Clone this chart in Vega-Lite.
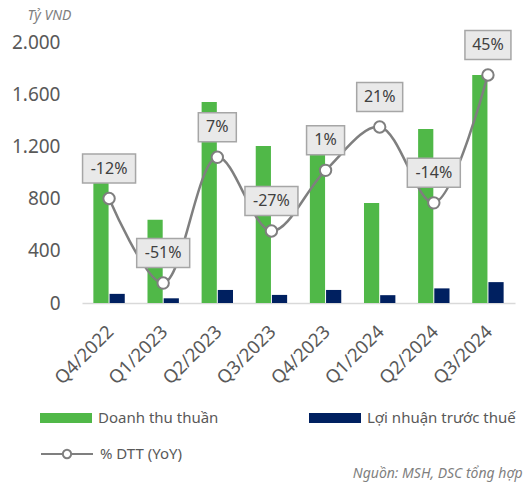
{
  "$schema": "https://vega.github.io/schema/vega-lite/v6.json",
  "width": 433,
  "height": 261,
  "autosize": {"type": "none"},
  "padding": {"left": 82, "top": 42, "right": 9, "bottom": 179},
  "background": "white",
  "config": {
    "font": "Noto Sans",
    "view": {"stroke": null}
  },
  "datasets": {
    "bars": [
      {"q": "Q4/2022", "series": "Doanh thu thuần", "value": 1140},
      {"q": "Q4/2022", "series": "Lợi nhuận trước thuế", "value": 70},
      {"q": "Q1/2023", "series": "Doanh thu thuần", "value": 638},
      {"q": "Q1/2023", "series": "Lợi nhuận trước thuế", "value": 36},
      {"q": "Q2/2023", "series": "Doanh thu thuần", "value": 1540},
      {"q": "Q2/2023", "series": "Lợi nhuận trước thuế", "value": 100},
      {"q": "Q3/2023", "series": "Doanh thu thuần", "value": 1203},
      {"q": "Q3/2023", "series": "Lợi nhuận trước thuế", "value": 62},
      {"q": "Q4/2023", "series": "Doanh thu thuần", "value": 1150},
      {"q": "Q4/2023", "series": "Lợi nhuận trước thuế", "value": 100},
      {"q": "Q1/2024", "series": "Doanh thu thuần", "value": 766},
      {"q": "Q1/2024", "series": "Lợi nhuận trước thuế", "value": 60},
      {"q": "Q2/2024", "series": "Doanh thu thuần", "value": 1333},
      {"q": "Q2/2024", "series": "Lợi nhuận trước thuế", "value": 112},
      {"q": "Q3/2024", "series": "Doanh thu thuần", "value": 1747},
      {"q": "Q3/2024", "series": "Lợi nhuận trước thuế", "value": 160}
    ],
    "yoy": [
      {"q": "Q4/2022", "yoy": -12, "label": "-12%"},
      {"q": "Q1/2023", "yoy": -51, "label": "-51%"},
      {"q": "Q2/2023", "yoy": 7, "label": "7%"},
      {"q": "Q3/2023", "yoy": -27, "label": "-27%"},
      {"q": "Q4/2023", "yoy": 1, "label": "1%"},
      {"q": "Q1/2024", "yoy": 21, "label": "21%"},
      {"q": "Q2/2024", "yoy": -14, "label": "-14%"},
      {"q": "Q3/2024", "yoy": 45, "label": "45%"}
    ]
  },
  "layer": [
    {
      "data": {"name": "bars"},
      "mark": {"type": "bar"},
      "encoding": {
        "x": {
          "field": "q", "type": "nominal", "sort": null,
          "scale": {"paddingInner": 0.42, "paddingOuter": 0.21},
          "axis": {
            "labelAngle": -45, "labelFontSize": 18.5, "labelColor": "#595959",
            "labelPadding": 19, "labelOffset": -5, "ticks": false,
            "domainColor": "#d9d9d9", "domainWidth": 1.5,
            "title": "Nguồn: MSH, DSC tổng hợp",
            "titleFontSize": 14, "titleFontStyle": "italic", "titleFontWeight": "normal",
            "titleColor": "#7f7f7f", "titleAlign": "right", "titleAnchor": null,
            "titleX": 440, "titleY": 174, "titleBaseline": "alphabetic"
          }
        },
        "xOffset": {"field": "series", "sort": null, "scale": {"paddingInner": 0.06}},
        "y": {
          "field": "value", "type": "quantitative",
          "scale": {"domain": [0, 2000], "nice": false},
          "axis": {
            "values": [0, 400, 800, 1200, 1600, 2000],
            "labelExpr": "replace(format(datum.value, ','), ',', '.')",
            "labelFontSize": 19, "labelColor": "#595959", "labelPadding": 22,
            "domain": false, "ticks": false, "grid": false,
            "title": "Tỷ VND", "titleAngle": 0, "titleAlign": "left",
            "titleBaseline": "alphabetic", "titleX": -55, "titleY": -23,
            "titleFontSize": 14, "titleFontStyle": "italic", "titleFontWeight": "normal",
            "titleColor": "#7f7f7f"
          }
        },
        "fill": {
          "field": "series", "type": "nominal", "sort": null,
          "scale": {"domain": ["Doanh thu thuần", "Lợi nhuận trước thuế"], "range": ["#50b848", "#002060"]},
          "legend": {
            "title": null, "orient": "none", "legendX": -42, "legendY": 350,
            "direction": "horizontal", "columns": 2, "columnPadding": 90,
            "symbolType": "M-1,-0.19H1V0.19H-1Z", "symbolSize": 2704, "symbolStrokeWidth": 0,
            "labelFontSize": 15, "labelColor": "#595959", "labelOffset": 6, "labelLimit": 300
          }
        }
      }
    },
    {
      "data": {"name": "yoy"},
      "mark": {"type": "line", "interpolate": "catmull-rom", "strokeWidth": 2.5},
      "encoding": {
        "x": {"field": "q", "type": "nominal", "sort": null},
        "y": {"field": "yoy", "type": "quantitative", "scale": {"domain": [-60.2, 60.2], "nice": false}, "axis": null},
        "stroke": {
          "datum": "% DTT (YoY)",
          "scale": {"range": ["#7f7f7f"]},
          "legend": {
            "title": null, "orient": "none", "legendX": -42, "legendY": 385,
            "symbolType": "M-1,0H-0.16M0.16,0H1M0.16,0A0.16,0.16 0 1,1 -0.16,0A0.16,0.16 0 1,1 0.16,0",
            "symbolSize": 2704, "symbolStrokeWidth": 2, "symbolFillColor": "white",
            "labelFontSize": 15, "labelColor": "#595959", "labelOffset": 6
          }
        }
      }
    },
    {
      "data": {"name": "yoy"},
      "mark": {"type": "point", "filled": true, "fill": "white", "stroke": "#7f7f7f", "strokeWidth": 2, "size": 130, "opacity": 1},
      "encoding": {
        "x": {"field": "q", "type": "nominal", "sort": null},
        "y": {"field": "yoy", "type": "quantitative", "scale": {"domain": [-60.2, 60.2], "nice": false}, "axis": null}
      }
    },
    {
      "data": {"name": "yoy"},
      "mark": {"type": "point", "filled": true, "fill": "#e9e9e9", "stroke": "#a6a6a6", "strokeWidth": 1.5, "size": 2809, "opacity": 1, "yOffset": -30},
      "encoding": {
        "x": {"field": "q", "type": "nominal", "sort": null},
        "y": {"field": "yoy", "type": "quantitative", "scale": {"domain": [-60.2, 60.2], "nice": false}, "axis": null},
        "shape": {
          "condition": [
            {"test": "length(datum.label) <= 2", "value": "M-0.717,-0.547H0.717V0.547H-0.717Z"},
            {"test": "length(datum.label) == 3", "value": "M-0.868,-0.547H0.868V0.547H-0.868Z"}
          ],
          "value": "M-1,-0.547H1V0.547H-1Z"
        }
      }
    },
    {
      "data": {"name": "yoy"},
      "mark": {"type": "text", "fontSize": 16, "color": "#404040", "baseline": "middle", "align": "center", "yOffset": -30},
      "encoding": {
        "x": {"field": "q", "type": "nominal", "sort": null},
        "y": {"field": "yoy", "type": "quantitative", "scale": {"domain": [-60.2, 60.2], "nice": false}, "axis": null},
        "text": {"field": "label"}
      }
    }
  ],
  "resolve": {"scale": {"y": "independent"}}
}
